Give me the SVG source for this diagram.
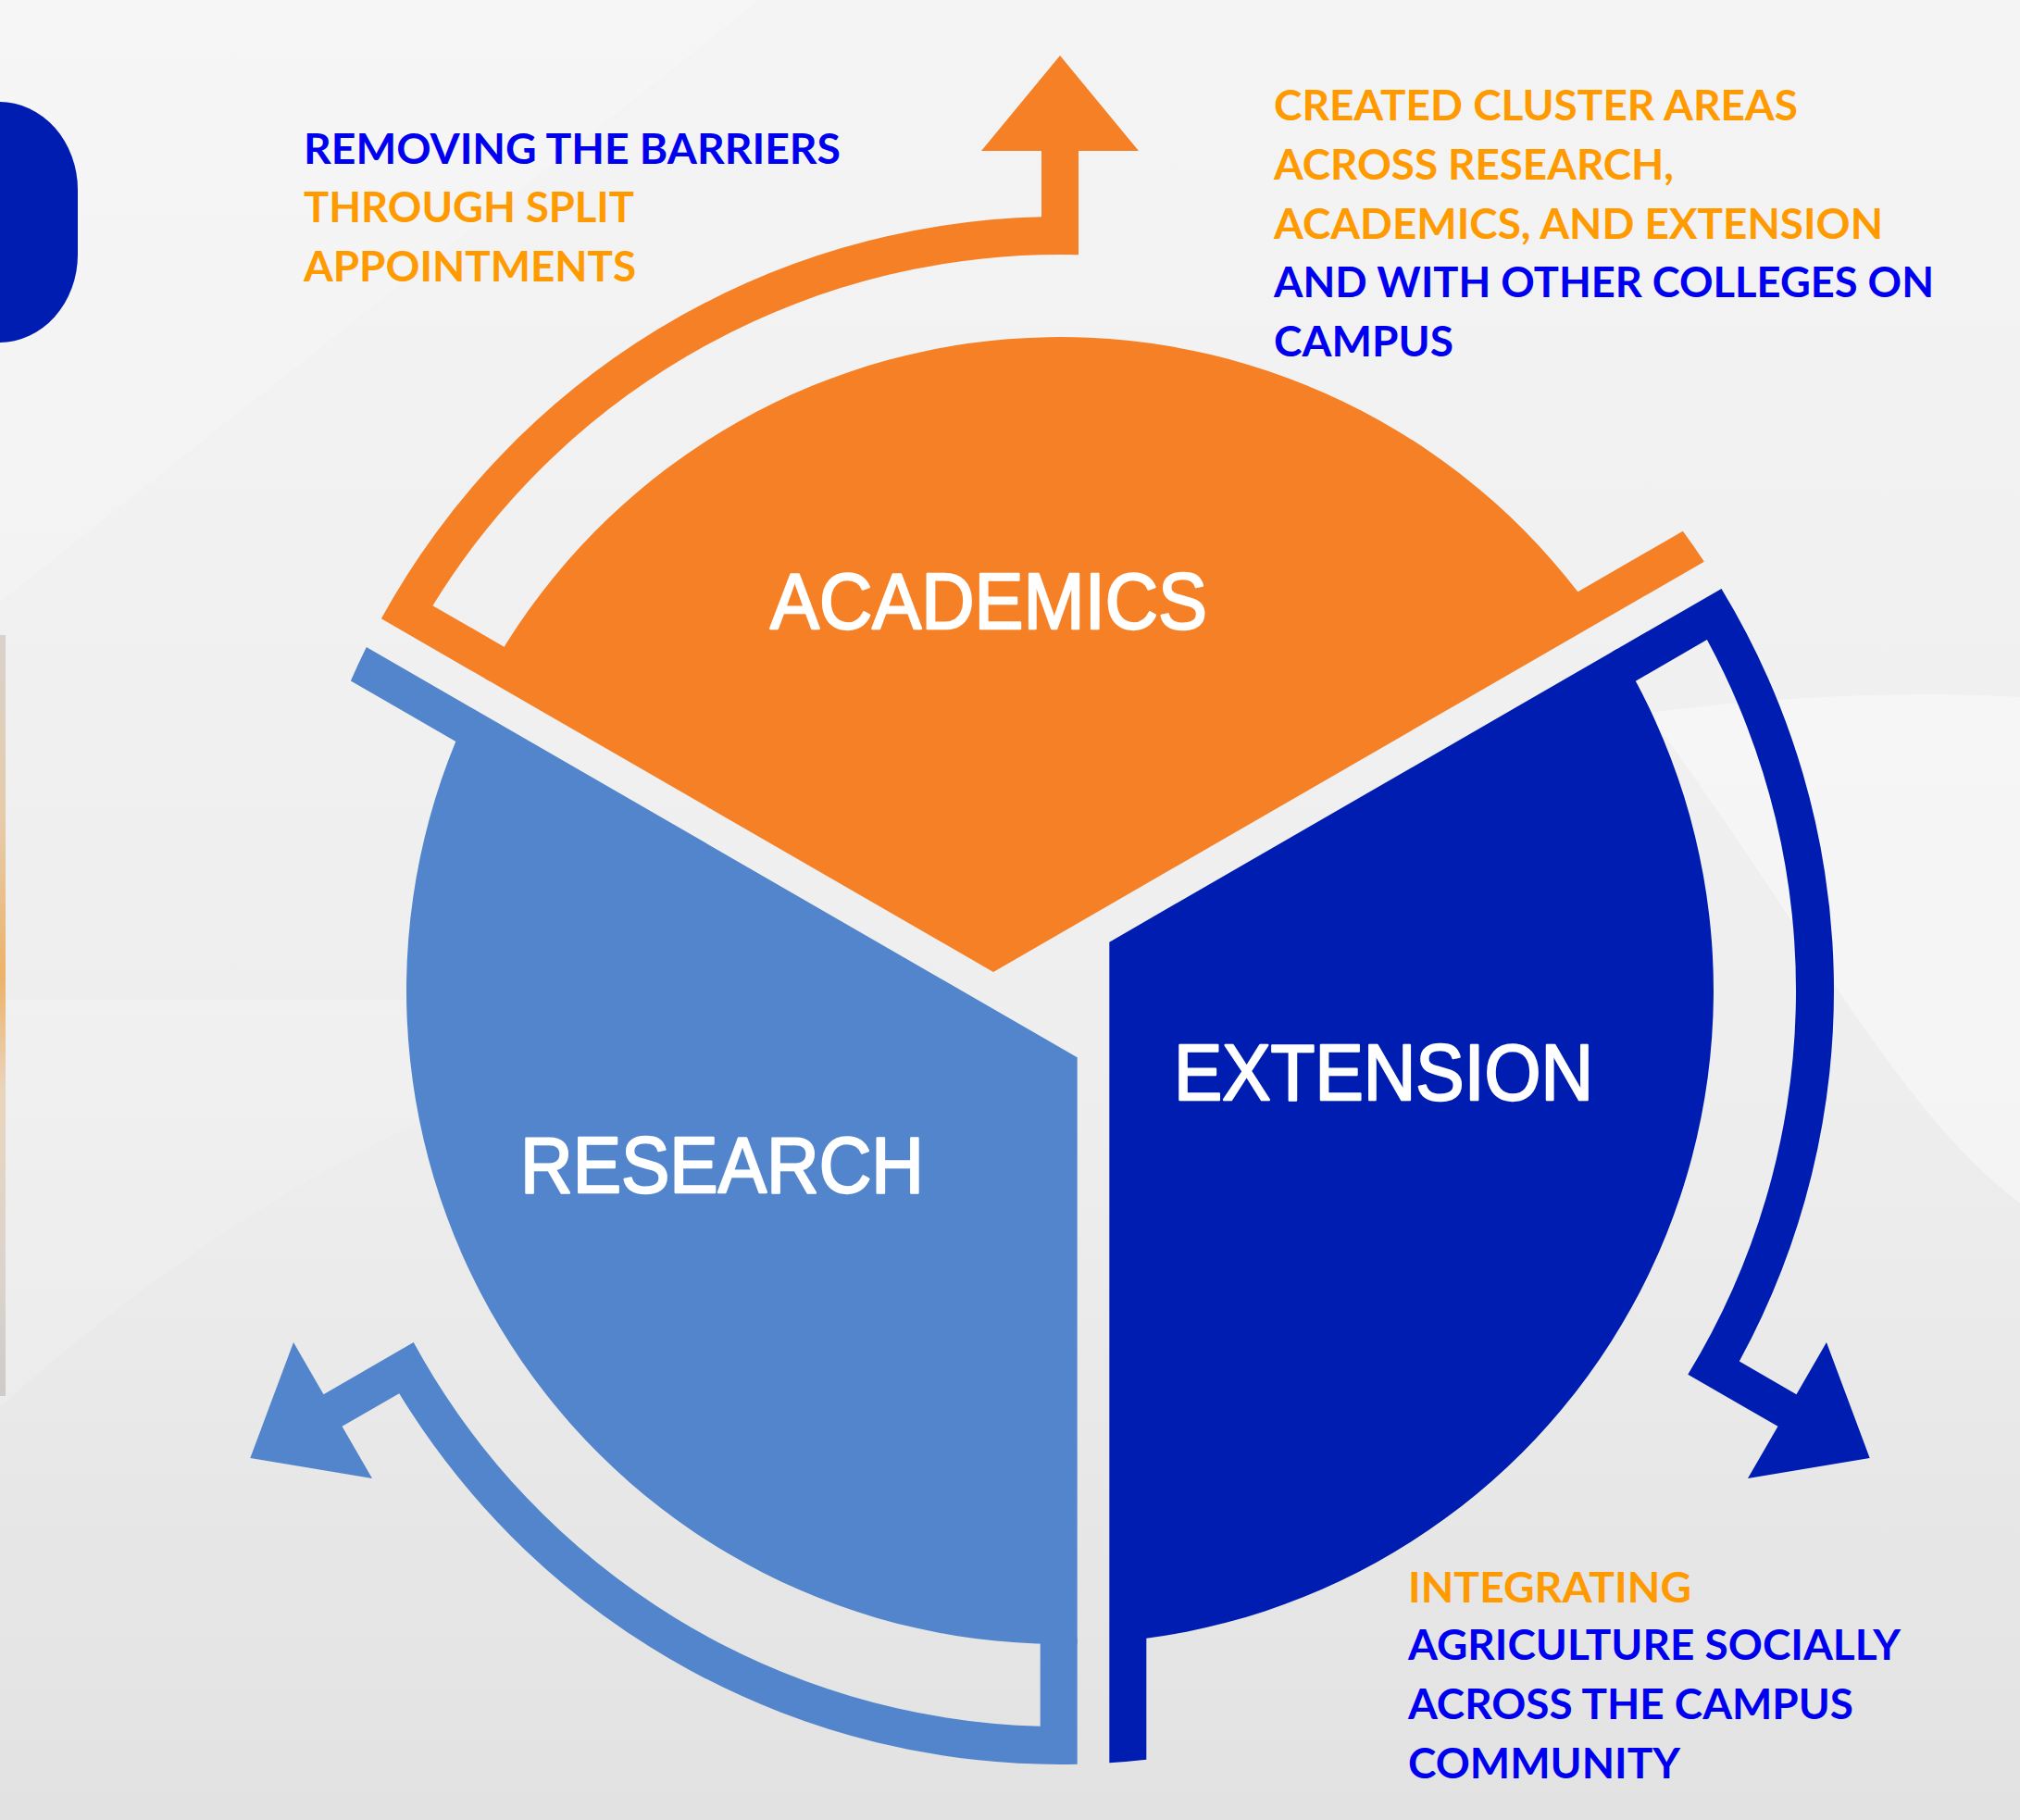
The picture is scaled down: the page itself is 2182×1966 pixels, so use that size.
<svg xmlns="http://www.w3.org/2000/svg" width="2182" height="1966" viewBox="0 0 2182 1966">
  <style>
    .side { font-family: Lato, "Liberation Sans", sans-serif; font-weight: 700; font-size: 46px; }
    .o { fill: #FF9A00; }
    .b { fill: #0000F0; }
    .lbl { font-family: "Liberation Sans", Arial, sans-serif; font-size: 85px; fill: #FFFFFF; stroke: #FFFFFF; stroke-width: 2.4px; stroke-linejoin: round; }
  </style>
  <defs>
    <linearGradient id="bg" x1="0" y1="0" x2="0" y2="1">
      <stop offset="0" stop-color="#F4F4F4"/>
      <stop offset="0.6" stop-color="#EEEEEE"/>
      <stop offset="1" stop-color="#E2E2E2"/>
    </linearGradient>
    <linearGradient id="photo" x1="0" y1="0" x2="0" y2="1">
      <stop offset="0" stop-color="#D8D2CC"/>
      <stop offset="0.25" stop-color="#E6CBA8"/>
      <stop offset="0.45" stop-color="#EDB26A"/>
      <stop offset="0.6" stop-color="#E9D5BE"/>
      <stop offset="0.85" stop-color="#DAD3CE"/>
      <stop offset="1" stop-color="#CFCBC8"/>
    </linearGradient>
    <!-- sector with two stubs, drawn around centre (0,0) -->
    <path id="sec" d="M-72,-20 L695.86,-463.33 A836,836 0 0 0 672.81,-496.21 L559.39,-430.72 A706,706 0 0 0 -620.5,-336.7 Z"/>
    <!-- band arrow leaving the sector at its foot -->
    <path id="arw" d="M-615.34,-333.7 L-595.27,-368.3 L-677.58,-415.82 A795,795 0 0 1 20,-794.75 L20,-907 L85,-907 L0,-1010 L-85,-907 L-20,-907 L-20,-835.76 A836,836 0 0 0 -733.15,-401.72 Z"/>
  </defs>

  <!-- background -->
  <rect width="2182" height="1966" fill="url(#bg)"/>
  <polygon points="0,0 820,0 0,650" fill="#FFFFFF" opacity="0.2"/>
  <path d="M1780,770 C1950,748 2100,748 2182,753 L2182,1300 C2050,1200 1950,1000 1780,770 Z" fill="#FFFFFF" opacity="0.4"/>
  <path d="M0,1520 C300,1250 600,1120 900,1080 L0,1080 Z" fill="#FFFFFF" opacity="0.15"/>
  <rect x="0" y="686" width="6" height="822" fill="url(#photo)"/>
  <rect x="-200" y="110" width="284" height="260" rx="85" ry="95" fill="#001DB2"/>

  <!-- connectors: band arrows -->
  <g id="connectors">
    <use href="#arw" transform="translate(1145 1070)" fill="#F58026"/>
    <use href="#arw" transform="translate(1145 1070) rotate(120)" fill="#001DB2"/>
    <use href="#arw" transform="translate(1145 1070) rotate(240)" fill="#5285CB"/>
  </g>

  <g id="academics">
    <use href="#sec" transform="translate(1145 1070)" fill="#F58026"/>
    <text class="lbl" x="832" y="679" textLength="472" lengthAdjust="spacingAndGlyphs">ACADEMICS</text>
  </g>
  <g id="extension">
    <use href="#sec" transform="translate(1145 1070) rotate(120)" fill="#001DB2"/>
    <text class="lbl" x="1268" y="1188" textLength="453" lengthAdjust="spacingAndGlyphs">EXTENSION</text>
  </g>
  <g id="research">
    <use href="#sec" transform="translate(1145 1070) rotate(240)" fill="#5285CB"/>
    <text class="lbl" x="562" y="1288" textLength="436" lengthAdjust="spacingAndGlyphs">RESEARCH</text>
  </g>

  <g id="note-barriers" class="side">
    <text class="b" x="328" y="177" textLength="580" lengthAdjust="spacingAndGlyphs">REMOVING THE BARRIERS</text>
    <text class="o" x="328" y="240" textLength="357" lengthAdjust="spacingAndGlyphs">THROUGH SPLIT</text>
    <text class="o" x="328" y="304" textLength="359" lengthAdjust="spacingAndGlyphs">APPOINTMENTS</text>
  </g>
  <g id="note-clusters" class="side">
    <text class="o" x="1376" y="130" textLength="566" lengthAdjust="spacingAndGlyphs">CREATED CLUSTER AREAS</text>
    <text class="o" x="1376" y="194" textLength="432" lengthAdjust="spacingAndGlyphs">ACROSS RESEARCH,</text>
    <text class="o" x="1376" y="258" textLength="658" lengthAdjust="spacingAndGlyphs">ACADEMICS, AND EXTENSION</text>
    <text class="b" x="1376" y="321" textLength="713" lengthAdjust="spacingAndGlyphs">AND WITH OTHER COLLEGES ON</text>
    <text class="b" x="1376" y="385" textLength="194" lengthAdjust="spacingAndGlyphs">CAMPUS</text>
  </g>
  <g id="note-integrating" class="side">
    <text class="o" x="1521" y="1731" textLength="306" lengthAdjust="spacingAndGlyphs">INTEGRATING</text>
    <text class="b" x="1521" y="1793" textLength="532" lengthAdjust="spacingAndGlyphs">AGRICULTURE SOCIALLY</text>
    <text class="b" x="1521" y="1857" textLength="481" lengthAdjust="spacingAndGlyphs">ACROSS THE CAMPUS</text>
    <text class="b" x="1521" y="1921" textLength="294" lengthAdjust="spacingAndGlyphs">COMMUNITY</text>
  </g>
</svg>
